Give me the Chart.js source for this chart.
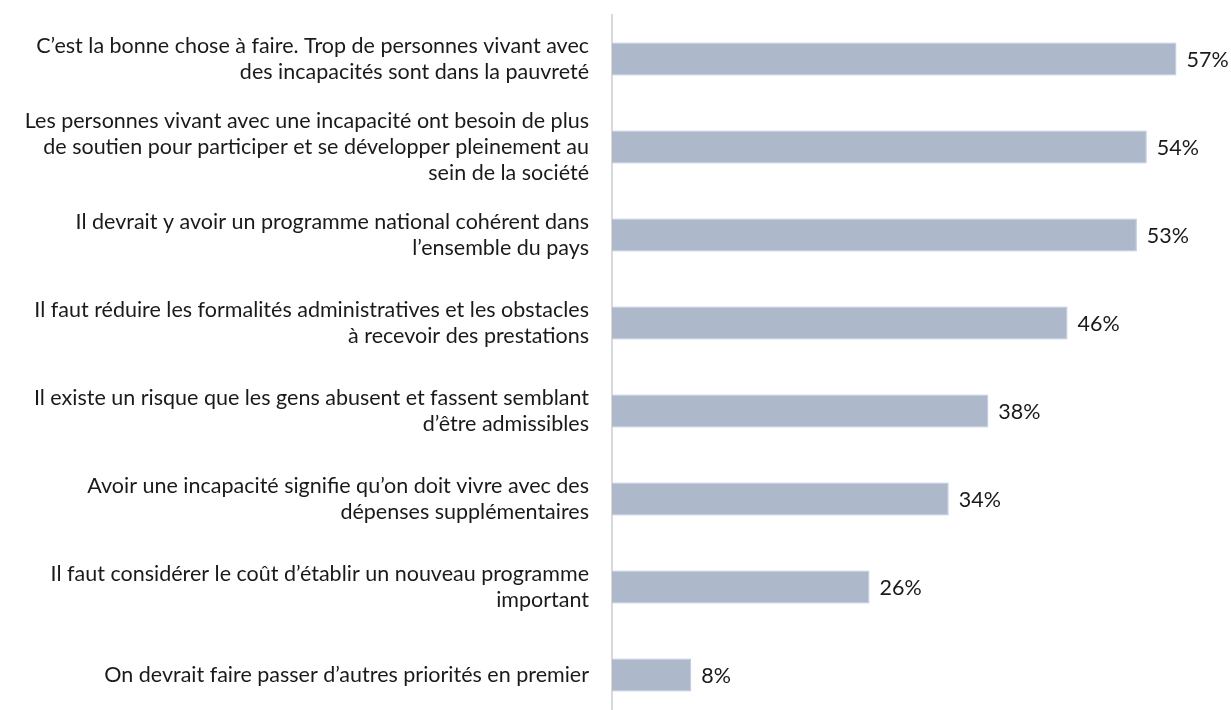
<!DOCTYPE html>
<html>
<head>
<meta charset="utf-8">
<script src="https://cdn.jsdelivr.net/npm/chart.js@4.4.1/dist/chart.umd.min.js"></script>
<style>
  html, body { margin: 0; padding: 0; background: #fff; overflow: hidden; }
  #wrap { width: 1231px; height: 720px; }
</style>
</head>
<body>
<div id="wrap"><canvas id="chart"></canvas></div>
<script>
const categories = [
  ["C\u2019est la bonne chose à faire. Trop de personnes vivant avec", "des incapacités sont dans la pauvreté"],
  ["Les personnes vivant avec une incapacité ont besoin de plus", "de soutien pour participer et se développer pleinement au", "sein de la société"],
  ["Il devrait y avoir un programme national cohérent dans", "l\u2019ensemble du pays"],
  ["Il faut réduire les formalités administratives et les obstacles", "à recevoir des prestations"],
  ["Il existe un risque que les gens abusent et fassent semblant", "d\u2019être admissibles"],
  ["Avoir une incapacité signifie qu\u2019on doit vivre avec des", "dépenses supplémentaires"],
  ["Il faut considérer le coût d\u2019établir un nouveau programme", "important"],
  ["On devrait faire passer d\u2019autres priorités en premier"],
]
const values = [57, 54, 53, 46, 38, 34, 26, 8]

const fontFamily = "Lato, 'Open Sans', sans-serif"
const fontSize = 21.5
const textColor = "#1a1a1a"

// draw "57%" etc. to the right of each bar
const valueLabels = {
  id: "valueLabels",
  afterDatasetsDraw(chart) {
    const ctx = chart.ctx
    const meta = chart.getDatasetMeta(0)
    ctx.save()
    ctx.font = fontSize + "px " + fontFamily
    ctx.fillStyle = textColor
    ctx.textAlign = "left"
    ctx.textBaseline = "middle"
    meta.data.forEach((bar, i) => {
      ctx.fillText(values[i] + "%", bar.x + 10, bar.y + 1)
    })
    ctx.restore()
  },
}

new Chart(document.getElementById("chart"), {
  type: "bar",
  data: {
    labels: categories,
    datasets: [
      {
        data: values,
        backgroundColor: "#adb9ca",
        borderColor: "#b4c7e7",
        borderWidth: 1,
        barPercentage: 0.75,
        categoryPercentage: 0.5,
      },
    ],
  },
  options: {
    indexAxis: "y",
    responsive: true,
    maintainAspectRatio: false,
    animation: false,
    layout: { padding: { top: 15, bottom: 1, right: 5, left: 0 } },
    scales: {
      x: {
        display: false,
        min: 0,
        max: 62,
      },
      y: {
        grid: { display: false, drawTicks: false },
        border: { color: "#d9d9d9", width: 2 },
        afterFit: (scale) => {
          scale.width = 612
          // multi-line labels should not shrink the plot area
          scale.paddingTop = 0
          scale.paddingBottom = 0
        },
        ticks: {
          color: textColor,
          padding: 23,
          font: { family: fontFamily, size: fontSize, lineHeight: 1.21 },
        },
      },
    },
    plugins: {
      legend: { display: false },
      tooltip: { enabled: false },
    },
  },
  plugins: [valueLabels],
})
</script>
</body>
</html>
